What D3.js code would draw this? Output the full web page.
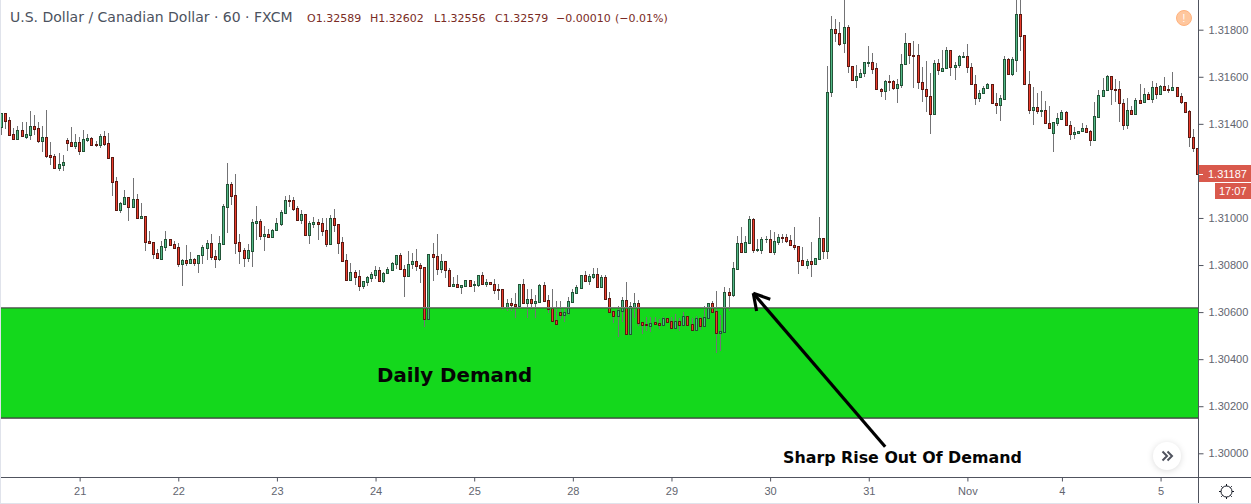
<!DOCTYPE html>
<html>
<head>
<meta charset="utf-8">
<title>USDCAD 60</title>
<script src="https://cdnjs.cloudflare.com/ajax/libs/d3/7.8.5/d3.min.js"></script>
<style>
  html, body { margin: 0; padding: 0; background: #fff; overflow: hidden; }
  text { font-family: "Liberation Sans", Arial, sans-serif; }
</style>
</head>
<body>
<div id="chart"></div>
<script>
// hourly candles
var opens = [1.31385,1.31445,1.31415,1.31356,1.31337,1.31373,1.31344,1.31354,1.31390,1.31381,
1.31329,1.31343,1.31268,1.31262,1.31214,1.31227,1.31330,1.31322,1.31307,1.31322,
1.31286,1.31333,1.31339,1.31315,1.31312,1.31347,1.31317,1.31258,1.31156,1.31035,
1.31060,1.31088,1.31048,1.31079,1.31001,1.31007,1.30901,1.30897,1.30850,1.30827,
1.30878,1.30909,1.30888,1.30875,1.30806,1.30820,1.30810,1.30824,1.30810,1.30841,
1.30874,1.30892,1.30837,1.30827,1.30891,1.31048,1.31143,1.31096,1.30897,1.30863,
1.30831,1.30861,1.30980,1.30986,1.30925,1.30931,1.30921,1.30948,1.30976,1.31023,
1.31075,1.31075,1.31041,1.30993,1.31016,1.30929,1.30976,1.30982,
1.30977,1.30948,1.30891,1.30999,1.30973,1.30897,1.30820,1.30738,1.30769,1.30752,
1.30712,1.30729,1.30746,1.30759,1.30778,1.30734,1.30765,1.30780,1.30806,1.30841,
1.30782,1.30755,1.30803,1.30816,1.30799,1.30790,1.30572,1.30846,1.30837,1.30785,
1.30816,1.30778,1.30712,1.30718,1.30708,1.30712,1.30735,1.30714,1.30717,1.30756,
1.30721,1.30727,1.30718,1.30697,1.30697,1.30622,1.30637,1.30633,1.30627,1.30718,
1.30640,1.30654,1.30640,1.30644,1.30714,1.30650,1.30616,1.30565,1.30599,1.30588,
1.30598,1.30644,1.30683,1.30704,1.30756,1.30734,1.30751,1.30761,1.30708,1.30748,
1.30659,1.30603,1.30585,1.30606,1.30650,1.30508,1.30623,1.30637,
1.30557,1.30548,1.30541,1.30557,1.30552,1.30547,1.30574,1.30561,1.30534,1.30561,
1.30547,1.30582,1.30548,1.30523,1.30574,1.30542,1.30576,1.30637,1.30603,1.30513,
1.30517,1.30684,1.30674,1.30785,1.30892,1.30857,1.30895,1.30994,1.30865,1.30865,
1.30909,1.30909,1.30857,1.30899,1.30918,1.30919,1.30905,1.30884,1.30880,1.30820,
1.30799,1.30816,1.30806,1.30827,1.30914,
1.30861,1.31534,1.31801,1.31786,1.31742,1.31810,1.31644,1.31585,1.31600,
1.31614,1.31660,1.31661,1.31636,1.31548,1.31538,1.31582,1.31580,1.31551,1.31566,
1.31653,1.31742,1.31692,1.31691,1.31576,1.31546,1.31517,1.31440,1.31657,1.31626,
1.31636,1.31715,1.31640,1.31648,1.31685,1.31687,1.31640,1.31568,1.31508,1.31529,
1.31551,1.31568,1.31487,1.31481,1.31507,1.31674,1.31613,1.31672,1.31865,1.31776,
1.31568,1.31457,1.31470,1.31453,1.31457,1.31402,1.31362,1.31405,1.31422,1.31449,
1.31393,1.31358,1.31362,1.31368,1.31381,1.31368,1.31332,1.31430,1.31519,1.31542,
1.31602,1.31546,1.31546,1.31487,1.31396,1.31457,1.31443,1.31500,1.31491,1.31525,
1.31504,1.31555,1.31528,1.31559,1.31546,1.31545,1.31555,1.31517,1.31491,1.31453,
1.31342,1.31296];

var highs = [1.31445,1.31445,1.31428,1.31383,1.31391,1.31408,1.31408,1.31455,1.31438,1.31408,
1.31391,1.31459,1.31323,1.31271,1.31276,1.31268,1.31340,1.31387,1.31357,1.31344,
1.31374,1.31357,1.31343,1.31327,1.31357,1.31370,1.31361,1.31258,1.31173,1.31068,
1.31119,1.31091,1.31170,1.31102,1.31064,1.31007,1.30945,1.30897,1.30868,1.30904,
1.30945,1.30909,1.30902,1.30892,1.30824,1.30885,1.30854,1.30829,1.30841,1.30884,
1.30907,1.30932,1.30864,1.30924,1.31060,1.31232,1.31153,1.31187,1.30932,1.30871,
1.30890,1.30994,1.31051,1.30994,1.30966,1.30952,1.30952,1.30999,1.31034,1.31094,
1.31098,1.31088,1.31051,1.31034,1.31016,1.30987,1.31004,1.30996,
1.30999,1.30999,1.31013,1.31038,1.30973,1.30918,1.30846,1.30807,1.30779,1.30778,
1.30732,1.30754,1.30772,1.30796,1.30793,1.30772,1.30793,1.30813,1.30841,1.30850,
1.30800,1.30860,1.30850,1.30868,1.30807,1.30790,1.30846,1.30895,1.30932,1.30847,
1.30816,1.30786,1.30748,1.30758,1.30715,1.30737,1.30737,1.30734,1.30756,1.30771,
1.30742,1.30728,1.30739,1.30720,1.30697,1.30656,1.30659,1.30680,1.30718,1.30741,
1.30698,1.30698,1.30673,1.30720,1.30728,1.30674,1.30698,1.30646,1.30646,1.30618,
1.30663,1.30697,1.30714,1.30756,1.30775,1.30761,1.30788,1.30786,1.30756,1.30756,
1.30684,1.30603,1.30625,1.30663,1.30728,1.30642,1.30680,1.30652,
1.30559,1.30578,1.30581,1.30578,1.30571,1.30578,1.30576,1.30578,1.30591,1.30576,
1.30602,1.30582,1.30574,1.30582,1.30578,1.30625,1.30637,1.30646,1.30688,1.30586,
1.30705,1.30702,1.30813,1.30923,1.30960,1.30922,1.31008,1.30998,1.30909,1.30918,
1.30923,1.30949,1.30940,1.30932,1.30932,1.30932,1.30926,1.30960,1.30880,1.30877,
1.30824,1.30898,1.30828,1.31003,1.30914,
1.31646,1.31858,1.31845,1.31833,1.31930,1.31820,1.31644,1.31650,1.31631,
1.31663,1.31731,1.31699,1.31657,1.31553,1.31585,1.31607,1.31585,1.31592,1.31697,
1.31786,1.31742,1.31750,1.31739,1.31643,1.31667,1.31614,1.31670,1.31674,1.31714,
1.31728,1.31715,1.31664,1.31691,1.31705,1.31739,1.31657,1.31607,1.31542,1.31561,
1.31572,1.31568,1.31531,1.31522,1.31688,1.31678,1.31685,1.31930,1.31930,1.31776,
1.31624,1.31555,1.31531,1.31539,1.31497,1.31476,1.31406,1.31447,1.31457,1.31453,
1.31410,1.31385,1.31371,1.31405,1.31393,1.31372,1.31493,1.31544,1.31595,1.31606,
1.31602,1.31590,1.31580,1.31507,1.31508,1.31474,1.31510,1.31569,1.31551,1.31534,
1.31580,1.31572,1.31563,1.31597,1.31565,1.31620,1.31558,1.31531,1.31494,1.31459,
1.31376,1.31296];

var lows = [1.31354,1.31380,1.31349,1.31337,1.31337,1.31344,1.31337,1.31332,1.31354,1.31320,
1.31281,1.31255,1.31225,1.31214,1.31201,1.31201,1.31286,1.31300,1.31292,1.31269,
1.31286,1.31324,1.31312,1.31303,1.31298,1.31307,1.31254,1.31094,1.31035,1.31023,
1.31055,1.30989,1.31047,1.31001,1.30997,1.30861,1.30891,1.30827,1.30827,1.30827,
1.30860,1.30882,1.30874,1.30793,1.30713,1.30797,1.30807,1.30797,1.30768,1.30805,
1.30822,1.30822,1.30789,1.30817,1.30891,1.30938,1.31055,1.30848,1.30806,1.30793,
1.30815,1.30793,1.30907,1.30907,1.30861,1.30921,1.30921,1.30945,1.30966,1.31017,
1.31048,1.31031,1.30993,1.30975,1.30929,1.30890,1.30956,1.30907,
1.30924,1.30877,1.30890,1.30941,1.30847,1.30819,1.30737,1.30734,1.30717,1.30691,
1.30697,1.30712,1.30727,1.30742,1.30734,1.30725,1.30765,1.30776,1.30782,1.30782,
1.30666,1.30755,1.30782,1.30776,1.30725,1.30538,1.30567,1.30734,1.30756,1.30765,
1.30745,1.30707,1.30705,1.30704,1.30678,1.30708,1.30711,1.30686,1.30707,1.30720,
1.30705,1.30714,1.30677,1.30652,1.30609,1.30603,1.30606,1.30576,1.30615,1.30635,
1.30576,1.30609,1.30576,1.30637,1.30649,1.30595,1.30564,1.30551,1.30572,1.30558,
1.30589,1.30637,1.30678,1.30701,1.30734,1.30715,1.30739,1.30705,1.30707,1.30657,
1.30602,1.30555,1.30496,1.30559,1.30501,1.30508,1.30574,1.30542,
1.30506,1.30518,1.30517,1.30549,1.30527,1.30541,1.30555,1.30531,1.30531,1.30521,
1.30547,1.30547,1.30523,1.30523,1.30525,1.30541,1.30576,1.30601,1.30425,1.30436,
1.30517,1.30606,1.30663,1.30785,1.30854,1.30855,1.30892,1.30850,1.30855,1.30847,
1.30892,1.30857,1.30844,1.30884,1.30892,1.30892,1.30882,1.30864,1.30763,1.30797,
1.30785,1.30751,1.30806,1.30824,1.30824,
1.30824,1.31515,1.31749,1.31732,1.31702,1.31617,1.31585,1.31553,1.31600,
1.31600,1.31643,1.31613,1.31545,1.31512,1.31502,1.31538,1.31545,1.31490,1.31552,
1.31648,1.31653,1.31552,1.31546,1.31494,1.31451,1.31358,1.31440,1.31609,1.31621,
1.31631,1.31604,1.31586,1.31637,1.31680,1.31617,1.31568,1.31481,1.31494,1.31529,
1.31549,1.31484,1.31442,1.31413,1.31507,1.31613,1.31603,1.31621,1.31709,1.31568,
1.31443,1.31395,1.31442,1.31430,1.31400,1.31379,1.31281,1.31392,1.31420,1.31392,
1.31332,1.31334,1.31358,1.31366,1.31365,1.31307,1.31332,1.31430,1.31515,1.31539,
1.31481,1.31491,1.31406,1.31375,1.31376,1.31442,1.31442,1.31483,1.31490,1.31501,
1.31490,1.31504,1.31527,1.31545,1.31529,1.31538,1.31515,1.31485,1.31449,1.31301,
1.31281,1.31187];

var closes = [1.31445,1.31414,1.31354,1.31337,1.31373,1.31347,1.31356,1.31390,1.31380,1.31329,
1.31343,1.31265,1.31261,1.31214,1.31228,1.31237,1.31320,1.31307,1.31322,1.31286,
1.31334,1.31339,1.31312,1.31312,1.31347,1.31316,1.31256,1.31154,1.31035,1.31062,
1.31088,1.31048,1.31079,1.31001,1.31007,1.30899,1.30895,1.30848,1.30829,1.30880,
1.30909,1.30887,1.30874,1.30806,1.30820,1.30810,1.30824,1.30810,1.30841,1.30875,
1.30892,1.30836,1.30827,1.30892,1.31050,1.31143,1.31095,1.30895,1.30861,1.30831,
1.30863,1.30982,1.30986,1.30925,1.30931,1.30921,1.30948,1.30977,1.31024,1.31075,
1.31074,1.31040,1.30993,1.31016,1.30929,1.30977,1.30982,1.30976,
1.30946,1.30891,1.30999,1.30972,1.30895,1.30819,1.30738,1.30769,1.30751,1.30712,
1.30731,1.30748,1.30761,1.30778,1.30734,1.30765,1.30782,1.30807,1.30841,1.30782,
1.30755,1.30803,1.30816,1.30797,1.30789,1.30572,1.30846,1.30836,1.30785,1.30816,
1.30778,1.30712,1.30718,1.30708,1.30714,1.30735,1.30712,1.30718,1.30756,1.30721,
1.30727,1.30718,1.30695,1.30695,1.30622,1.30637,1.30632,1.30627,1.30718,1.30640,
1.30654,1.30640,1.30646,1.30714,1.30649,1.30615,1.30564,1.30551,1.30588,1.30599,
1.30646,1.30684,1.30705,1.30756,1.30734,1.30752,1.30761,1.30708,1.30748,1.30657,
1.30602,1.30585,1.30608,1.30650,1.30508,1.30625,1.30637,1.30555,
1.30547,1.30544,1.30555,1.30551,1.30547,1.30574,1.30559,1.30534,1.30561,1.30547,
1.30582,1.30547,1.30523,1.30574,1.30542,1.30578,1.30637,1.30602,1.30513,1.30518,
1.30684,1.30674,1.30786,1.30892,1.30857,1.30896,1.30994,1.30865,1.30867,1.30909,
1.30911,1.30857,1.30901,1.30919,1.30916,1.30904,1.30884,1.30878,1.30819,1.30799,
1.30816,1.30806,1.30828,1.30914,1.30861,
1.31534,1.31801,1.31784,1.31740,1.31810,1.31644,1.31585,1.31602,1.31614,
1.31661,1.31663,1.31634,1.31546,1.31538,1.31580,1.31579,1.31551,1.31568,1.31653,
1.31742,1.31691,1.31689,1.31576,1.31546,1.31517,1.31440,1.31657,1.31627,1.31636,
1.31715,1.31640,1.31648,1.31687,1.31687,1.31640,1.31568,1.31508,1.31529,1.31551,
1.31568,1.31487,1.31481,1.31508,1.31674,1.31613,1.31674,1.31865,1.31774,1.31568,
1.31457,1.31470,1.31453,1.31457,1.31402,1.31381,1.31406,1.31423,1.31449,1.31393,
1.31358,1.31364,1.31368,1.31381,1.31366,1.31332,1.31432,1.31521,1.31542,1.31602,
1.31546,1.31545,1.31487,1.31396,1.31457,1.31443,1.31500,1.31487,1.31525,1.31504,
1.31555,1.31528,1.31559,1.31545,1.31545,1.31555,1.31517,1.31491,1.31451,1.31342,
1.31296,1.31187];

var priceTicks = [1.30000, 1.30200, 1.30400, 1.30600, 1.30800, 1.31000, 1.31400, 1.31600, 1.31800];
var dayLabels = ["21", "22", "23", "24", "25", "28", "29", "30", "31", "Nov", "4", "5"];
var dayBars = [19, 43, 67, 91, 115, 139, 163, 187, 211, 235, 258, 282];

var demandZone = [1.30151, 1.30617];
var arrowFrom = [215, 1.30028];
var arrowTo = [182.9, 1.30680];
var lastPrice = 1.31187;

var title = "U.S. Dollar / Canadian Dollar \u00b7 60 \u00b7 FXCM";
var legend = ["O1.32589", "H1.32602", "L1.32556", "C1.32579", "\u22120.00010", "(\u22120.01%)"];
var legendX = [307, 370, 434, 495, 556, 615];

var width = 1251, height = 504;
var plotRight = 1198, plotBottom = 477;
var axisColor = "#50535e", labelColor = "#62656f";

var x = d3.scaleLinear().domain([0, 291]).range([1.55, 1.55 + 291 * 4.11]);
var y = d3.scaleLinear().domain([1.30, 1.318]).range([453.3, 29.7]);

var svg = d3.select("#chart").append("svg")
  .attr("width", width)
  .attr("height", height)
  .style("display", "block");

svg.append("rect").attr("width", width).attr("height", height).attr("fill", "#fff");

svg.append("clipPath").attr("id", "plot-clip")
  .append("rect").attr("width", plotRight).attr("height", plotBottom);

//demand zone
var zoneTop = Math.round(y(demandZone[1]));
var zoneBottom = Math.round(y(demandZone[0]));
svg.append("rect")
  .attr("x", 1).attr("y", zoneTop)
  .attr("width", plotRight - 1).attr("height", zoneBottom - zoneTop)
  .attr("fill", "#14d81c");

//candles
var candles = svg.append("g").attr("clip-path", "url(#plot-clip)")
  .selectAll("g").data(opens).join("g")
  .attr("transform", function (d, i) { return "translate(" + Math.floor(x(i)) + ",0)"; });

candles.append("rect")
  .attr("x", 0).attr("width", 1)
  .attr("y", function (d, i) { return Math.round(y(highs[i])); })
  .attr("height", function (d, i) { return Math.max(1, Math.round(y(lows[i])) - Math.round(y(highs[i]))); })
  .attr("fill", "#737375");

function bodyTop(i) { return Math.round(y(Math.max(opens[i], closes[i]))); }
function bodyHeight(i) { return Math.max(1, Math.round(y(Math.min(opens[i], closes[i]))) - bodyTop(i) + 1); }

candles.append("rect")
  .attr("x", -1).attr("width", 3)
  .attr("y", function (d, i) { return bodyTop(i); })
  .attr("height", function (d, i) { return bodyHeight(i); })
  .attr("fill", function (d, i) { return closes[i] >= opens[i] ? "#225437" : "#5b1a13"; });

candles.append("rect")
  .attr("x", 0).attr("width", 1)
  .attr("y", function (d, i) { return bodyTop(i) + 1; })
  .attr("height", function (d, i) { return Math.max(0, bodyHeight(i) - 2); })
  .attr("fill", function (d, i) { return closes[i] >= opens[i] ? "#53b987" : "#eb3c2c"; });

//zone edges go over the candles
svg.append("rect").attr("x", 1).attr("y", zoneTop - 1).attr("width", plotRight - 1).attr("height", 1).attr("fill", "#7b7b7b");
svg.append("rect").attr("x", 1).attr("y", zoneTop).attr("width", plotRight - 1).attr("height", 1).attr("fill", "#2c7f30").attr("opacity", 0.8);
svg.append("rect").attr("x", 1).attr("y", zoneBottom - 1).attr("width", plotRight - 1).attr("height", 1).attr("fill", "#2c7f30");
svg.append("rect").attr("x", 1).attr("y", zoneBottom).attr("width", plotRight - 1).attr("height", 1).attr("fill", "#6b6b6b");

//annotations
svg.append("text")
  .attr("x", 377).attr("y", 382)
  .style("font-family", "'DejaVu Sans'").style("font-weight", "bold").style("font-size", "19.8px")
  .attr("fill", "#050505")
  .text("Daily Demand");

svg.append("text")
  .attr("x", 783).attr("y", 463)
  .style("font-family", "'DejaVu Sans'").style("font-weight", "bold").style("font-size", "15.85px")
  .attr("fill", "#050505")
  .text("Sharp Rise Out Of Demand");

var ax = x(arrowFrom[0]), ay = y(arrowFrom[1]), bx = x(arrowTo[0]), by = y(arrowTo[1]);
var shaftAngle = Math.atan2(ay - by, ax - bx);
var headLine = d3.line();
var arrowPts = [[[ax, ay], [bx, by]]];
[-Math.PI / 6, Math.PI / 6].forEach(function (a) {
  arrowPts.push([[bx, by], [bx + 18 * Math.cos(shaftAngle + a), by + 18 * Math.sin(shaftAngle + a)]]);
});
svg.append("g").selectAll("path").data(arrowPts).join("path")
  .attr("d", headLine)
  .attr("fill", "none").attr("stroke", "#000").attr("stroke-width", 3.2);

//axes
var xAxis = d3.axisBottom(x)
  .tickValues(dayBars)
  .tickFormat(function (d, i) { return dayLabels[i]; })
  .tickSize(4).tickPadding(6);
var xg = svg.append("g").attr("transform", "translate(0," + (plotBottom + 0.5) + ")").call(xAxis);
xg.select(".domain").remove();
xg.selectAll("line").attr("stroke", axisColor);
xg.selectAll("text").attr("fill", labelColor).style("font-size", "11px");

var yAxis = d3.axisRight(y)
  .tickValues(priceTicks)
  .tickFormat(d3.format(".5f"))
  .tickSize(5).tickPadding(5);
var yg = svg.append("g").attr("transform", "translate(" + (plotRight + 0.5) + ",0)").call(yAxis);
yg.select(".domain").remove();
yg.selectAll("line").attr("stroke", axisColor);
yg.selectAll("text").attr("fill", labelColor).style("font-size", "11px");

svg.append("rect").attr("x", 0).attr("y", plotBottom).attr("width", width).attr("height", 1).attr("fill", axisColor);
svg.append("rect").attr("x", plotRight).attr("y", 0).attr("width", 1).attr("height", height).attr("fill", axisColor);

//last price tag and timer
var tagY = y(lastPrice);
svg.append("rect").attr("x", plotRight + 1).attr("y", Math.round(tagY) - 9).attr("width", width - plotRight - 1).attr("height", 17).attr("fill", "#d9594c");
svg.append("rect").attr("x", plotRight + 1).attr("y", Math.round(tagY)).attr("width", 4).attr("height", 1).attr("fill", "#fff");
svg.append("text").attr("x", 1208).attr("y", tagY + 4).attr("fill", "#fff").style("font-size", "11px").text(d3.format(".5f")(lastPrice));
svg.append("rect").attr("x", 1215).attr("y", 183).attr("width", 36).attr("height", 16).attr("fill", "#d9594c");
svg.append("text").attr("x", 1219).attr("y", 195).attr("fill", "#fff").style("font-size", "11px").text("17:07");

//header
svg.append("text")
  .attr("x", 10).attr("y", 22)
  .style("font-family", "'DejaVu Sans'").style("font-size", "14px")
  .attr("fill", "#4c525e")
  .text(title);
svg.append("g").selectAll("text").data(legend).join("text")
  .attr("x", function (d, i) { return legendX[i]; })
  .attr("y", 22)
  .style("font-family", "'DejaVu Sans'").style("font-size", "11px")
  .attr("fill", "#7a2b24")
  .text(function (d) { return d; });

//notice badge
svg.append("circle").attr("cx", 1184).attr("cy", 18).attr("r", 7.5)
  .attr("fill", "#ffc79e").attr("stroke", "#ffb27d").attr("stroke-width", 1);
svg.append("text").attr("x", 1184).attr("y", 22).attr("text-anchor", "middle")
  .attr("fill", "#fff").style("font-size", "10px").text("!");

//scroll button
svg.append("circle").attr("cx", 1167).attr("cy", 456).attr("r", 14)
  .attr("fill", "#fff")
  .style("filter", "drop-shadow(0 1px 3px rgba(0,0,0,0.14))");
svg.append("g").selectAll("path").data([0, 5]).join("path")
  .attr("d", function (d) { return "M" + (1162.5 + d) + ",451.5 L" + (1167 + d) + ",456 L" + (1162.5 + d) + ",460.5"; })
  .attr("fill", "none").attr("stroke", "#50535e").attr("stroke-width", 2);

//settings gear
var gear = svg.append("g").attr("transform", "translate(1226.5,491.5)");
gear.append("circle").attr("r", 5.5).attr("fill", "none").attr("stroke", "#131722").attr("stroke-width", 1);
gear.selectAll("line").data(d3.range(8)).join("line")
  .attr("x1", function (d) { return 5.5 * Math.cos(d * Math.PI / 4); })
  .attr("y1", function (d) { return 5.5 * Math.sin(d * Math.PI / 4); })
  .attr("x2", function (d) { return 7.5 * Math.cos(d * Math.PI / 4); })
  .attr("y2", function (d) { return 7.5 * Math.sin(d * Math.PI / 4); })
  .attr("stroke", "#131722").attr("stroke-width", 1);

//page edges
svg.append("rect").attr("x", 0).attr("y", 0).attr("width", 1).attr("height", height).attr("fill", "#e0e3eb");
svg.append("rect").attr("x", 0).attr("y", 503).attr("width", width).attr("height", 1).attr("fill", "#e0e3eb");
</script>
</body>
</html>
